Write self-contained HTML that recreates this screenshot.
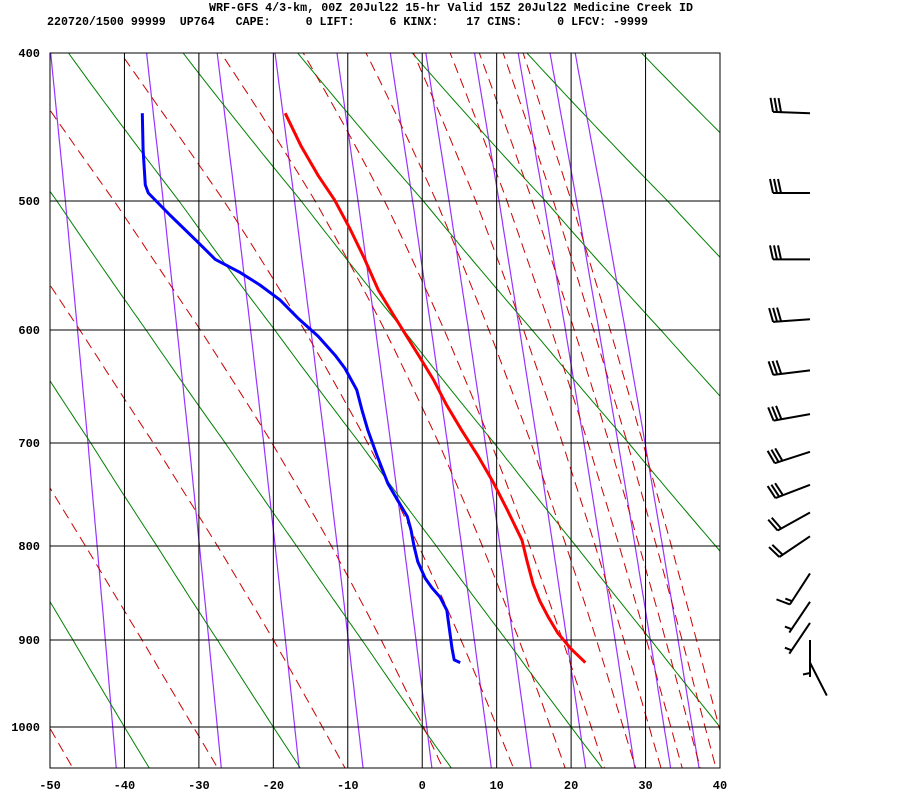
<!DOCTYPE html>
<html><head><meta charset="utf-8"><style>
html,body{margin:0;padding:0;background:#fff;}
svg{display:block;}
text{font-family:"Liberation Mono",monospace;font-weight:bold;font-size:12px;fill:#000;}
</style></head><body>
<svg id="chart" width="900" height="800" viewBox="0 0 900 800" xmlns="http://www.w3.org/2000/svg">
<defs><clipPath id="plotclip"><rect x="50" y="53" width="670" height="715"/></clipPath></defs>
<g>
<text x="209" y="11" textLength="484" lengthAdjust="spacingAndGlyphs">WRF-GFS 4/3-km, 00Z 20Jul22 15-hr Valid 15Z 20Jul22 Medicine Creek ID</text>
<text x="47" y="25" textLength="601" lengthAdjust="spacingAndGlyphs" style="white-space:pre" xml:space="preserve">220720/1500 99999  UP764   CAPE:     0 LIFT:     6 KINX:    17 CINS:     0 LFCV: -9999</text>
</g>
<g id="bg" clip-path="url(#plotclip)"></g>
<g id="grid"></g>
<g id="profiles" clip-path="url(#plotclip)"></g>
<g id="axes"></g>
<g id="winds"></g>
</svg>
<script>
// ---- data ----
const tempP = [925,909,892,874,857,839,816,794,763,736,712,688,665,642,623,603,587,567,542,519,499,481,460,438];
const tempT = [21.9,19.9,18.2,16.9,15.8,14.9,14.1,13.4,11.4,9.5,7.5,5.3,3.3,1.5,-0.3,-2.3,-3.9,-5.9,-7.8,-9.8,-11.8,-14,-16.3,-18.4];
const dewP = [925,922,909,891,867,853,843,833,816,800,784,770,754,738,711,688,669,651,632,621,605,590,575,563,553,543,528,510,494,488,463,438];
const dewT = [5.1,4.3,4.0,3.7,3.3,2.4,1.3,0.4,-0.6,-1.1,-1.5,-2,-3.3,-4.6,-6.1,-7.3,-8.1,-8.8,-10.4,-11.7,-14,-16.7,-19.1,-21.8,-24.5,-27.8,-30.5,-33.9,-36.8,-37.2,-37.5,-37.6];
const pressureTicks = [400,500,600,700,800,900,1000];
const tempTicks = [-50,-40,-30,-20,-10,0,10,20,30,40];
const dryTheta = [-60,-40,-20,0,20,40,60,80,100,120,140,160,180,200];
const moistThetaE = [-70,-50,-30,-10,10,30,50,70,90,110,130,150,170,190];
const mixRatios = [0.1,0.4,1,2,4,7,10,16,24,32,40];
const windP = [438,494,543,591,634,673,708,739,766,790,828,858,881,900,925];
const windDir = [272,270,270,266,263,260,252,249,241,236,213,214,214,180,153];
const windSpd = [30,30,30,30,30,30,30,30,20,20,15,5,5,5,0];

// ---- axis functions ----
const PY = [53,201,330,443,546,640,727];
function yOf(p){
  let i = 0;
  while(i < pressureTicks.length-2 && p > pressureTicks[i+1]) i++;
  const p0=pressureTicks[i], p1=pressureTicks[i+1];
  return PY[i] + (PY[i+1]-PY[i]) * Math.log(p/p0)/Math.log(p1/p0);
}
function xOf(t){ return 50 + (t+50)*670/90; }
const NS="http://www.w3.org/2000/svg";
function mk(tag, attrs, parent){
  const e=document.createElementNS(NS,tag);
  for(const k in attrs) e.setAttribute(k, attrs[k]);
  parent.appendChild(e); return e;
}
function es(tc){ return 6.112*Math.exp(17.67*tc/(tc+243.5)); }
const pLevels=[]; for(let p=380;p<=1070;p+=5) pLevels.push(p);

const bg=document.getElementById('bg');
mixRatios.forEach(w=>{
  const pts=pLevels.map(p=>{const e=w*p/(622+w);const l=Math.log(e/6.112);const td=243.5*l/(17.67-l);return xOf(td).toFixed(1)+','+yOf(p).toFixed(1);});
  const el=mk('polyline',{points:pts.join(' '),fill:'none',stroke:'#9933ff','stroke-width':1.2},bg);
  
  
});
dryTheta.forEach(th=>{
  const pts=pLevels.map(p=>{const t=(th+273.15)*Math.pow(p/1000,0.2857)-273.15;return xOf(t).toFixed(1)+','+yOf(p).toFixed(1);});
  const el=mk('polyline',{points:pts.join(' '),fill:'none',stroke:'#008000','stroke-width':1},bg);
  
  
});
function thetaE(T,p){
  const e=es(T-273.15); let ws = e<p*0.8 ? 0.622*e/(p-e) : 0.622*4;
  return T*Math.pow(1000/p,0.2857)*Math.exp(2.5e6*ws/(1005*T));
}
moistThetaE.forEach(te=>{
  const target=te+273.15;
  const pts=[];
  pLevels.forEach(p=>{
    let lo=150, hi=340;
    if(thetaE(hi,p)<target) return;
    for(let k=0;k<50;k++){const m=(lo+hi)/2; if(thetaE(m,p)<target) lo=m; else hi=m;}
    pts.push(xOf(lo-273.15).toFixed(1)+','+yOf(p).toFixed(1));
  });
  const el=mk('polyline',{points:pts.join(' '),fill:'none',stroke:'#cc0000','stroke-width':1,'stroke-dasharray':'10,6'},bg);
  
  
});

const grid=document.getElementById('grid');
tempTicks.forEach(t=>{
  const el=mk('line',{x1:xOf(t),x2:xOf(t),y1:53,y2:768,stroke:'#000','stroke-width':1},grid);
  
  
});
pressureTicks.forEach(p=>{
  const el=mk('line',{x1:50,x2:720,y1:yOf(p),y2:yOf(p),stroke:'#000','stroke-width':1},grid);
  
  
});
const fr=mk('rect',{x:50,y:53,width:670,height:715,fill:'none',stroke:'#000','stroke-width':1},grid);



const prof=document.getElementById('profiles');
const tl=mk('polyline',{points:tempP.map((p,i)=>xOf(tempT[i]).toFixed(1)+','+yOf(p).toFixed(1)).join(' '),fill:'none',stroke:'#ff0000','stroke-width':3,'stroke-linejoin':'round'},prof);


const dl=mk('polyline',{points:dewP.map((p,i)=>xOf(dewT[i]).toFixed(1)+','+yOf(p).toFixed(1)).join(' '),fill:'none',stroke:'#0000ff','stroke-width':3,'stroke-linejoin':'round'},prof);



const axes=document.getElementById('axes');
pressureTicks.forEach(p=>{
  const t=mk('text',{x:40,y:yOf(p)+4,'text-anchor':'end'},axes); t.textContent=p;
  
  
});
tempTicks.forEach(v=>{
  const t=mk('text',{x:xOf(v),y:789,'text-anchor':'middle'},axes); t.textContent=v;
  
  
});

const winds=document.getElementById('winds');
windP.forEach((p,i)=>{
  const g=mk('g',{},winds);
  
  
  const bx=810, by=yOf(p), L=37;
  const a=windDir[i]*Math.PI/180;
  const ux=Math.sin(a), uy=-Math.cos(a);
  const tx=bx+ux*L, ty=by+uy*L;
  mk('line',{x1:bx,y1:by,x2:tx,y2:ty,stroke:'#000','stroke-width':2},g);
  const px=-uy, py=ux;
  let s=windSpd[i], k=0;
  while(s>=10){
    const sx=tx-ux*4*k, sy=ty-uy*4*k;
    mk('line',{x1:sx,y1:sy,x2:sx+px*14+ux*3,y2:sy+py*14+uy*3,stroke:'#000','stroke-width':2},g);
    s-=10;k++;
  }
  if(s>=5){
    if(k===0) k=1;
    const sx=tx-ux*4*k, sy=ty-uy*4*k;
    mk('line',{x1:sx,y1:sy,x2:sx+px*7+ux*1.5,y2:sy+py*7+uy*1.5,stroke:'#000','stroke-width':2},g);
  }
});
</script>
</body></html>
